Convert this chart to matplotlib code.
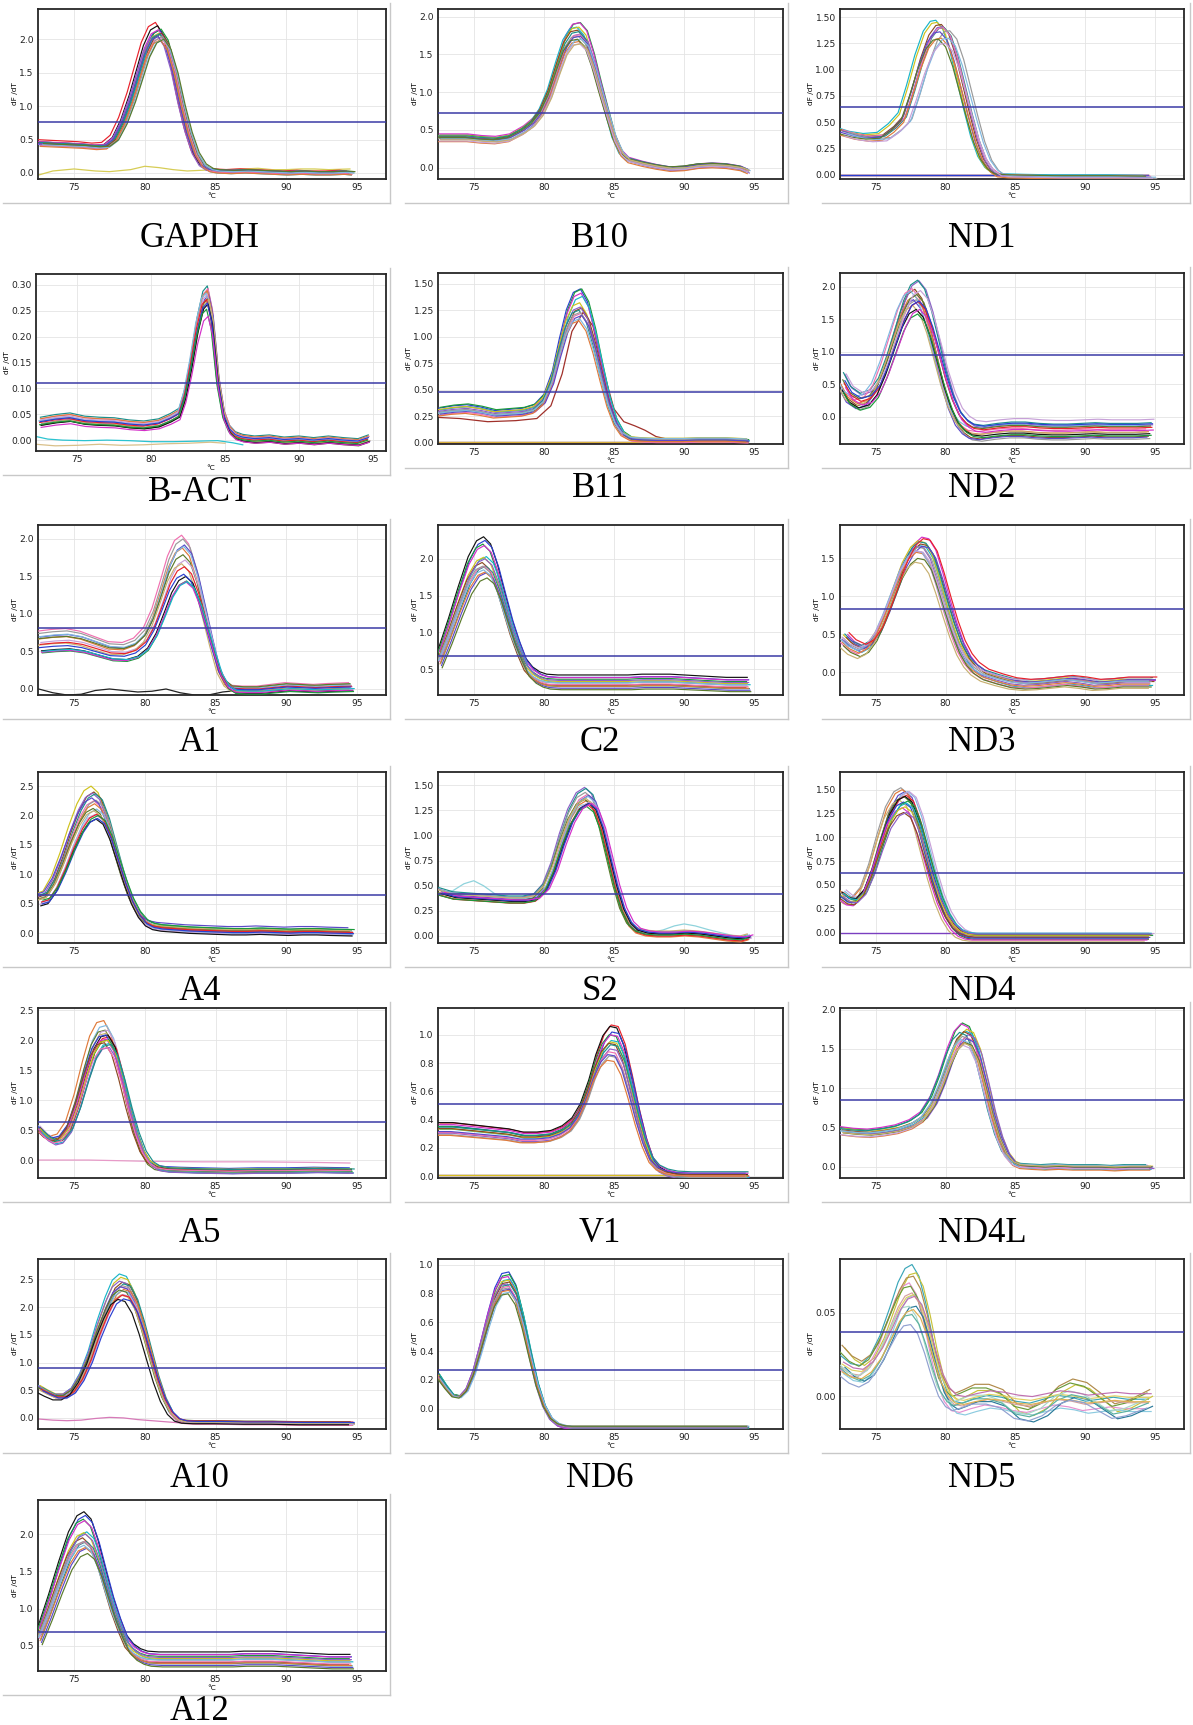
import numpy as np
import matplotlib
matplotlib.use("Agg")
import matplotlib.pyplot as plt
from matplotlib.lines import Line2D

W, H = 1193, 1725

# ---- melt curve data (dF/dT vs temperature) ----
# each panel: base curve knots + per-replicate peak height / temp shift / offset

GAPDH_T = [72.5, 73.5, 74.5, 75.5, 76.5, 77.2, 77.8, 78.4, 79.0, 79.5, 80.0, 80.5, 81.0, 81.5, 82.0,
           82.5, 83.0, 83.5, 84.0, 84.5, 85.0, 86.0, 87.0, 88.0, 89.0, 90.0, 91.0, 92.0, 93.0, 94.0, 94.5]
GAPDH_Y = [0.44, 0.43, 0.42, 0.41, 0.39, 0.40, 0.50, 0.75, 1.10, 1.45, 1.80, 2.02, 2.08, 1.92, 1.55,
           1.05, 0.62, 0.30, 0.12, 0.05, 0.03, 0.02, 0.03, 0.02, 0.01, 0.0, 0.01, 0.0, 0.0, 0.01, 0.0]
GAPDH_PEAK = [2.22, 2.20, 2.16, 2.14, 2.12, 2.10, 2.09, 2.08, 2.07, 2.06, 2.05, 2.04, 2.03, 2.02, 2.00, 1.98]
GAPDH_SHIFT = [-0.25, -0.1, 0.05, 0.15, -0.05, 0.1, 0.0, 0.2, -0.15, 0.05, 0.15, 0.25, -0.05, 0.1, 0.3, 0.35]
GAPDH_OFFSET = [0.03, 0.0, -0.02, 0.01, 0.02, -0.03, 0.0, 0.01, -0.01, 0.02, -0.02, 0.0, 0.01, -0.03, 0.0, 0.02]
GAPDH_NEG_T = [72.5, 73.5, 75, 76.5, 77.5, 79, 80, 81, 82, 83, 84, 85, 86, 87, 88, 89, 90, 91, 92, 93, 94.5]
GAPDH_NEG_Y = [-0.03, 0.03, 0.06, 0.03, 0.02, 0.05, 0.1, 0.08, 0.05, 0.03, 0.04, 0.05, 0.05, 0.06, 0.07,
               0.05, 0.05, 0.06, 0.06, 0.05, 0.06]
GAPDH_THR = 0.76
GAPDH_YTICKS = [0.0, 0.5, 1.0, 1.5, 2.0]

B10_T = [72.5, 73.5, 74.5, 75.5, 76.5, 77.5, 78.5, 79.2, 79.8, 80.4, 81.0, 81.5, 82.0, 82.5, 83.0,
         83.5, 84.0, 84.5, 85.0, 85.5, 86.0, 87.0, 88.0, 89.0, 90.0, 91.0, 92.0, 93.0, 94.0, 94.5]
B10_Y = [0.40, 0.40, 0.40, 0.38, 0.37, 0.40, 0.50, 0.60, 0.75, 1.00, 1.35, 1.62, 1.76, 1.78, 1.68,
         1.40, 1.05, 0.72, 0.40, 0.20, 0.11, 0.06, 0.02, -0.01, 0.0, 0.03, 0.04, 0.03, 0.0, -0.04]
B10_PEAK = [1.92, 1.90, 1.88, 1.85, 1.82, 1.80, 1.78, 1.76, 1.75, 1.73, 1.71, 1.70, 1.68, 1.66, 1.64]
B10_SHIFT = [0.1, 0.05, -0.15, 0.0, -0.1, 0.15, 0.0, 0.05, -0.05, 0.1, 0.0, 0.2, -0.1, 0.05, 0.15]
B10_OFFSET = [0.0, 0.02, -0.02, 0.01, 0.0, -0.03, 0.02, 0.0, -0.01, 0.01, -0.04, 0.0, 0.02, -0.02, 0.0]
B10_THR = 0.73
B10_YTICKS = [0.0, 0.5, 1.0, 1.5, 2.0]

ND1_T = [72.5, 73.5, 74.5, 75.5, 76.3, 77.0, 77.6, 78.2, 78.8, 79.3, 79.7, 80.2, 80.7, 81.2, 81.7,
         82.2, 82.7, 83.2, 83.7, 84.5, 86, 88, 90, 92, 94.5]
ND1_Y = [0.42, 0.38, 0.36, 0.37, 0.45, 0.55, 0.80, 1.08, 1.30, 1.39, 1.40, 1.32, 1.12, 0.85, 0.58,
         0.33, 0.15, 0.05, 0.0, -0.01, -0.015, -0.02, -0.02, -0.02, -0.025]
ND1_PEAK = [1.45, 1.44, 1.43, 1.42, 1.40, 1.39, 1.38, 1.36, 1.32, 1.30, 1.28, 1.26]
ND1_SHIFT = [-0.4, -0.3, 0.0, 0.1, 0.2, 0.15, 0.6, -0.1, 0.0, 0.5, -0.2, 0.3]
ND1_OFFSET = [0.02, 0.01, 0.0, -0.01, 0.0, 0.01, -0.01, 0.0, -0.02, 0.0, 0.01, -0.01]
ND1_FLAT = [-0.006, -0.003, 0.0, -0.004]
ND1_THR = 0.645
ND1_YTICKS = [0.0, 0.25, 0.5, 0.75, 1.0, 1.25, 1.5]

BACT_T = [72.5, 73.5, 74.5, 75.5, 76.5, 77.5, 78.5, 79.5, 80.5, 81.3, 81.9, 82.3, 82.7, 83.1, 83.5,
          83.8, 84.1, 84.5, 84.9, 85.3, 85.7, 86.2, 87, 88, 89, 90, 91, 92, 93, 94, 94.7]
BACT_Y = [0.035, 0.040, 0.043, 0.037, 0.035, 0.034, 0.030, 0.028, 0.032, 0.042, 0.052, 0.09, 0.15, 0.22,
          0.27, 0.28, 0.24, 0.12, 0.05, 0.02, 0.008, 0.003, 0.0, 0.002, -0.002, 0.0, -0.003, 0.0,
          -0.003, -0.005, 0.002]
BACT_PEAK = [0.290, 0.288, 0.287, 0.285, 0.283, 0.282, 0.280, 0.278, 0.275, 0.272, 0.268, 0.262, 0.255, 0.245]
BACT_SHIFT = [0.0, 0.05, -0.05, 0.1, 0.0, -0.1, 0.05, 0.0, 0.1, -0.05, 0.05, 0.0, -0.05, 0.05]
BACT_OFFSET = [0.008, 0.005, 0.0, -0.004, 0.006, 0.002, -0.006, 0.004, -0.003, 0.0, -0.005, 0.003, -0.002, -0.006]
BACT_NEG1_T = [72.2, 73.0, 74.0, 75.5, 77.0, 78.5, 80.0, 81.5, 83.0, 84.5, 85.5, 86.2]
BACT_NEG1_Y = [0.007, 0.002, 0.0, -0.001, 0.0, -0.001, -0.003, -0.003, -0.002, -0.001, -0.005, -0.009]
BACT_NEG2_T = [72.2, 73.5, 75.0, 76.5, 78.0, 79.5, 81.0, 82.5, 84.0, 85.0]
BACT_NEG2_Y = [-0.008, -0.011, -0.010, -0.008, -0.010, -0.009, -0.007, -0.006, -0.004, -0.006]
BACT_THR = 0.111
BACT_YTICKS = [0.0, 0.05, 0.10, 0.15, 0.20, 0.25, 0.30]

B11_T = [72.5, 73.5, 74.5, 75.5, 76.5, 77.5, 78.5, 79.3, 80.0, 80.6, 81.1, 81.6, 82.1, 82.6, 83.1,
         83.6, 84.1, 84.6, 85.1, 85.6, 86.2, 87, 88, 89, 90, 91, 92, 93, 94.5]
B11_Y = [0.30, 0.32, 0.33, 0.31, 0.28, 0.29, 0.30, 0.33, 0.42, 0.62, 0.90, 1.15, 1.30, 1.33, 1.22,
         0.98, 0.68, 0.40, 0.20, 0.09, 0.04, 0.03, 0.025, 0.025, 0.025, 0.03, 0.03, 0.03, 0.02]
B11_PEAK = [1.45, 1.44, 1.42, 1.38, 1.30, 1.28, 1.27, 1.25, 1.24, 1.22, 1.20, 1.16, 1.15]
B11_SHIFT = [0.0, 0.1, 0.05, 0.15, -0.05, 0.1, 0.0, -0.1, 0.05, 0.0, 0.1, -0.1, -0.05]
B11_OFFSET = [0.0, 0.01, -0.01, 0.0, 0.02, -0.01, 0.01, 0.0, -0.02, 0.01, 0.0, -0.01, 0.02]
B11_OUT_T = [72.5, 74, 76, 78, 79.5, 80.5, 81.3, 82, 82.8, 83.5, 84.2, 85, 85.7, 86.5, 87.2, 88, 89, 90, 92, 94.5]
B11_OUT_Y = [0.24, 0.23, 0.20, 0.21, 0.23, 0.35, 0.65, 1.05, 1.23, 1.10, 0.70, 0.32, 0.20, 0.16, 0.12,
             0.06, 0.03, 0.03, 0.03, 0.02]
B11_FLAT = [0.005, 0.01, 0.0]
B11_THR = 0.475
B11_YTICKS = [0.0, 0.25, 0.5, 0.75, 1.0, 1.25, 1.5]

ND2_T = [72.5, 73.0, 73.7, 74.4, 75.0, 75.6, 76.2, 76.8, 77.3, 77.8, 78.3, 78.8, 79.3, 79.8, 80.3,
         80.8, 81.3, 81.8, 82.5, 83.5, 84.5, 85.5, 86.5, 87.5, 88.5, 89.5, 90.5, 91.5, 92.5, 93.5, 94.5]
ND2_Y = [0.50, 0.30, 0.20, 0.25, 0.42, 0.75, 1.15, 1.55, 1.78, 1.85, 1.72, 1.40, 0.98, 0.55, 0.20,
         -0.05, -0.18, -0.25, -0.27, -0.24, -0.22, -0.22, -0.24, -0.25, -0.25, -0.24, -0.23, -0.24,
         -0.24, -0.24, -0.23]
ND2_PEAK = [2.01, 1.97, 1.95, 1.92, 1.90, 1.88, 1.86, 1.83, 1.80, 1.76, 1.73, 1.72, 1.70, 1.68, 1.66, 1.65]
ND2_SHIFT = [0.0, 0.3, 0.2, -0.2, 0.1, -0.1, 0.0, -0.3, 0.15, 0.4, -0.15, 0.25, 0.1, 0.3, 0.2, 0.35]
ND2_OFFSET = [-0.05, 0.12, 0.15, 0.05, -0.1, -0.08, 0.0, 0.1, 0.08, 0.18, -0.02, 0.05, -0.05, 0.1, -0.08, 0.0]
ND2_THR = 0.95
ND2_YTICKS = [0.0, 0.5, 1.0, 1.5, 2.0]

A1_T = [72.5, 73.5, 74.5, 75.5, 76.5, 77.5, 78.5, 79.3, 80.0, 80.6, 81.2, 81.7, 82.2, 82.7, 83.2,
        83.7, 84.2, 84.7, 85.2, 85.7, 86.2, 87, 88, 89, 90, 91, 92, 93, 94.5]
A1_Y = [0.62, 0.64, 0.65, 0.62, 0.56, 0.50, 0.49, 0.54, 0.66, 0.88, 1.20, 1.48, 1.66, 1.72, 1.62,
        1.35, 0.98, 0.60, 0.25, 0.07, 0.0, -0.01, -0.01, 0.01, 0.03, 0.02, 0.01, 0.02, 0.03]
A1_PEAK = [2.0, 1.97, 1.92, 1.90, 1.88, 1.75, 1.72, 1.70, 1.62, 1.55, 1.53, 1.50, 1.47, 1.45]
A1_SHIFT = [-0.1, 0.0, 0.1, -0.05, 0.05, 0.0, 0.15, -0.1, 0.1, 0.2, 0.05, 0.25, 0.2, 0.3]
A1_OFFSET = [0.05, 0.03, 0.0, -0.02, 0.02, 0.04, 0.0, -0.03, 0.01, -0.05, 0.0, -0.06, -0.04, -0.02]
A1_NEG_T = [72.5, 73.5, 74.5, 75.5, 76.5, 77.5, 78.5, 79.5, 80.5, 81.5, 82.5, 83.5, 84.5, 85.5, 86.5,
            88, 90, 92, 94.5]
A1_NEG_Y = [0.0, -0.05, -0.08, -0.07, -0.02, 0.0, -0.02, -0.04, -0.03, 0.0, -0.05, -0.08, -0.08,
            -0.04, -0.02, -0.02, -0.02, -0.02, -0.02]
A1_THR = 0.815
A1_YTICKS = [0.0, 0.5, 1.0, 1.5, 2.0]

C2_T = [72.5, 73.2, 73.9, 74.6, 75.2, 75.7, 76.2, 76.7, 77.2, 77.7, 78.2, 78.7, 79.2, 79.7, 80.2,
        81, 82, 83, 84, 85, 86, 87, 88, 89, 90, 91, 92, 93, 94.5]
C2_Y = [0.68, 1.05, 1.45, 1.82, 2.02, 2.07, 1.98, 1.72, 1.38, 1.05, 0.78, 0.55, 0.44, 0.38, 0.35,
        0.34, 0.34, 0.34, 0.34, 0.34, 0.34, 0.35, 0.35, 0.35, 0.34, 0.33, 0.32, 0.31, 0.31]
C2_PEAK = [2.25, 2.23, 2.20, 2.15, 2.05, 2.02, 2.00, 1.98, 1.96, 1.93, 1.90, 1.88, 1.86, 1.84, 1.82]
C2_SHIFT = [0.0, 0.1, -0.05, 0.05, 0.2, 0.0, -0.1, 0.1, 0.15, 0.05, -0.05, 0.2, 0.1, 0.0, 0.25]
C2_OFFSET = [0.05, 0.02, 0.0, 0.03, -0.02, 0.0, -0.05, 0.02, -0.06, -0.03, 0.0, -0.07, -0.04, 0.01, -0.08]
C2_THR = 0.68
C2_YTICKS = [0.5, 1.0, 1.5, 2.0]

ND3_T = [72.5, 73.0, 73.7, 74.3, 74.9, 75.5, 76.1, 76.7, 77.3, 77.8, 78.3, 78.8, 79.3, 79.8, 80.3,
         80.8, 81.3, 81.8, 82.5, 83.5, 84.5, 85.5, 86.5, 87.5, 88.5, 89.5, 90.5, 91.5, 92.5, 93.5, 94.5]
ND3_Y = [0.45, 0.36, 0.30, 0.36, 0.52, 0.78, 1.08, 1.38, 1.58, 1.66, 1.64, 1.50, 1.22, 0.90, 0.60,
         0.35, 0.18, 0.07, -0.02, -0.08, -0.13, -0.15, -0.14, -0.12, -0.10, -0.12, -0.15, -0.14,
         -0.12, -0.12, -0.12]
ND3_PEAK = [1.76, 1.72, 1.70, 1.69, 1.68, 1.67, 1.66, 1.65, 1.64, 1.62, 1.60, 1.58, 1.56, 1.55, 1.70]
ND3_SHIFT = [0.5, 0.3, 0.2, 0.4, 0.1, 0.3, 0.0, 0.2, 0.5, 0.1, 0.0, 0.2, 0.1, 0.0, 0.6]
ND3_OFFSET = [0.02, -0.05, 0.03, 0.0, -0.02, 0.05, -0.06, 0.0, 0.02, -0.04, 0.0, -0.08, 0.04, -0.1, 0.06]
ND3_THR = 0.83
ND3_YTICKS = [0.0, 0.5, 1.0, 1.5]

A4_T = [72.5, 73.0, 73.6, 74.2, 74.8, 75.4, 75.9, 76.4, 76.9, 77.4, 77.9, 78.4, 78.9, 79.4, 79.9,
        80.4, 81, 82, 83, 84, 85, 86, 87, 88, 89, 90, 91, 92, 93, 94.5]
A4_Y = [0.58, 0.62, 0.85, 1.20, 1.60, 1.95, 2.15, 2.22, 2.12, 1.82, 1.40, 0.98, 0.62, 0.36, 0.20,
        0.13, 0.10, 0.08, 0.06, 0.05, 0.04, 0.03, 0.03, 0.04, 0.03, 0.02, 0.03, 0.03, 0.02, 0.01]
A4_PEAK = [2.48, 2.42, 2.38, 2.33, 2.28, 2.25, 2.22, 2.20, 2.15, 2.10, 2.07, 2.05, 2.02, 2.00, 1.97, 1.95]
A4_SHIFT = [-0.2, 0.0, -0.1, 0.1, 0.0, 0.15, -0.15, 0.05, 0.2, -0.05, 0.1, 0.0, 0.2, 0.15, 0.25, 0.3]
A4_OFFSET = [0.02, -0.02, 0.0, 0.04, -0.03, 0.01, 0.08, 0.0, -0.04, 0.02, -0.05, 0.03, 0.0, -0.06, -0.02, 0.05]
A4_THR = 0.64
A4_YTICKS = [0.0, 0.5, 1.0, 1.5, 2.0, 2.5]

S2_T = [72.5, 73.5, 74.5, 75.5, 76.5, 77.5, 78.5, 79.3, 80.0, 80.6, 81.2, 81.8, 82.4, 83.0, 83.5,
        84.0, 84.5, 85.0, 85.5, 86.0, 86.5, 87.2, 88, 89, 90, 91, 92, 93, 94, 94.5]
S2_Y = [0.44, 0.40, 0.39, 0.38, 0.37, 0.36, 0.36, 0.38, 0.48, 0.68, 0.95, 1.18, 1.33, 1.38, 1.32,
        1.12, 0.82, 0.52, 0.28, 0.13, 0.06, 0.03, 0.02, 0.02, 0.03, 0.02, 0.0, -0.02, -0.03, -0.01]
S2_PEAK = [1.48, 1.45, 1.43, 1.42, 1.40, 1.38, 1.37, 1.36, 1.35, 1.34, 1.33, 1.32, 1.31, 1.30, 1.30]
S2_SHIFT = [-0.1, 0.0, 0.1, -0.05, 0.2, 0.05, 0.15, -0.1, 0.3, 0.0, 0.1, 0.2, 0.25, 0.05, 0.4]
S2_OFFSET = [0.0, 0.02, -0.02, 0.01, 0.0, -0.03, 0.02, 0.0, -0.01, 0.03, -0.02, 0.0, 0.01, -0.01, 0.02]
S2_OUT_T = [72.5, 73.5, 74.3, 75, 75.7, 76.5, 77.5, 78.5, 79.5, 80.3, 81, 81.8, 82.6, 83.3, 84,
            84.6, 85.2, 85.8, 86.5, 87.5, 88.5, 89.3, 90, 90.8, 91.8, 93, 94.5]
S2_OUT_Y = [0.42, 0.45, 0.52, 0.55, 0.50, 0.42, 0.38, 0.37, 0.42, 0.60, 0.90, 1.15, 1.30, 1.32, 1.20,
            0.90, 0.55, 0.25, 0.08, 0.03, 0.06, 0.10, 0.12, 0.10, 0.06, 0.02, -0.03]
S2_THR = 0.42
S2_YTICKS = [0.0, 0.25, 0.5, 0.75, 1.0, 1.25, 1.5]

ND4_T = [72.5, 73.0, 73.5, 74.1, 74.7, 75.3, 75.9, 76.5, 77.0, 77.5, 78.0, 78.5, 79.0, 79.5, 80.0,
         80.5, 81.0, 81.5, 82.0, 83, 85, 88, 91, 94.5]
ND4_Y = [0.42, 0.36, 0.35, 0.45, 0.68, 0.98, 1.25, 1.40, 1.44, 1.38, 1.18, 0.90, 0.62, 0.38, 0.20,
         0.08, 0.01, -0.02, -0.03, -0.03, -0.03, -0.03, -0.03, -0.03]
ND4_PEAK = [1.52, 1.50, 1.49, 1.48, 1.47, 1.46, 1.45, 1.44, 1.42, 1.40, 1.38, 1.36, 1.34, 1.32, 1.28, 1.25]
ND4_SHIFT = [-0.2, 0.1, -0.1, 0.3, 0.0, 0.4, -0.3, 0.2, 0.1, 0.0, 0.3, -0.1, 0.2, 0.1, 0.0, 0.2]
ND4_OFFSET = [0.0, -0.02, 0.01, 0.0, -0.04, 0.02, -0.06, 0.0, 0.01, -0.03, 0.0, -0.05, 0.02, 0.0, -0.02, 0.01]
ND4_FLAT = [0.0]
ND4_THR = 0.625
ND4_YTICKS = [0.0, 0.25, 0.5, 0.75, 1.0, 1.25, 1.5]

A5_T = [72.5, 73.0, 73.5, 74.0, 74.6, 75.2, 75.8, 76.3, 76.8, 77.3, 77.8, 78.3, 78.8, 79.3, 79.8,
        80.3, 80.8, 81.5, 82.5, 84, 86, 88, 90, 92, 94.5]
A5_Y = [0.52, 0.40, 0.33, 0.36, 0.55, 0.95, 1.45, 1.82, 2.02, 2.05, 1.85, 1.42, 0.92, 0.48, 0.15,
        -0.04, -0.12, -0.15, -0.16, -0.17, -0.18, -0.17, -0.17, -0.16, -0.17]
A5_PEAK = [2.30, 2.25, 2.20, 2.15, 2.12, 2.10, 2.08, 2.05, 2.03, 2.02, 2.00, 1.98, 1.96, 1.94, 1.92, 1.90]
A5_SHIFT = [-0.2, 0.0, -0.1, 0.1, 0.0, 0.2, 0.1, -0.05, 0.15, 0.0, 0.25, 0.1, -0.15, 0.2, 0.3, 0.05]
A5_OFFSET = [0.03, 0.0, -0.03, 0.02, 0.0, -0.04, 0.01, 0.04, -0.02, 0.0, -0.05, 0.02, 0.0, -0.06, 0.01, -0.02]
A5_NEG_T = [72.5, 76, 80, 84, 88, 92, 94.5]
A5_NEG_Y = [0.0, 0.0, -0.02, -0.03, -0.03, -0.04, -0.05]
A5_THR = 0.63
A5_YTICKS = [0.0, 0.5, 1.0, 1.5, 2.0, 2.5]

V1_T = [72.5, 73.5, 74.5, 75.5, 76.5, 77.5, 78.5, 79.5, 80.5, 81.3, 82.0, 82.6, 83.2, 83.7, 84.2,
        84.7, 85.2, 85.7, 86.2, 86.7, 87.2, 87.7, 88.2, 88.8, 89.5, 90.5, 92, 94.5]
V1_Y = [0.33, 0.33, 0.32, 0.31, 0.30, 0.29, 0.27, 0.27, 0.28, 0.31, 0.36, 0.45, 0.60, 0.76, 0.88,
        0.94, 0.93, 0.82, 0.63, 0.42, 0.24, 0.11, 0.05, 0.02, 0.005, 0.0, 0.0, 0.0]
V1_PEAK = [1.07, 1.05, 1.03, 1.00, 0.98, 0.97, 0.95, 0.93, 0.92, 0.90, 0.88, 0.86, 0.84, 0.82]
V1_SHIFT = [0.1, 0.0, 0.15, -0.05, 0.05, 0.1, 0.0, -0.1, 0.0, 0.05, -0.1, -0.05, -0.15, -0.2]
V1_OFFSET = [0.0, 0.01, -0.01, 0.0, 0.02, -0.01, 0.0, 0.01, -0.02, 0.03, 0.0, -0.01, 0.02, 0.0]
V1_FLAT = [0.008, 0.004]
V1_THR = 0.51
V1_YTICKS = [0.0, 0.2, 0.4, 0.6, 0.8, 1.0]

ND4L_T = [72.5, 73.5, 74.5, 75.5, 76.5, 77.5, 78.3, 79.0, 79.6, 80.2, 80.7, 81.2, 81.7, 82.2, 82.7,
          83.2, 83.7, 84.2, 84.7, 85.2, 86, 87, 88, 89, 90, 91, 92, 93, 94.5]
ND4L_Y = [0.45, 0.43, 0.42, 0.44, 0.47, 0.53, 0.62, 0.80, 1.05, 1.35, 1.55, 1.64, 1.60, 1.40, 1.05,
          0.68, 0.38, 0.17, 0.06, 0.02, 0.01, 0.0, 0.01, 0.0, 0.0, 0.0, -0.01, 0.0, 0.0]
ND4L_PEAK = [1.83, 1.80, 1.76, 1.74, 1.72, 1.70, 1.68, 1.66, 1.65, 1.63, 1.62, 1.60, 1.58, 1.57, 1.56]
ND4L_SHIFT = [0.0, -0.1, 0.2, 0.3, 0.1, 0.4, -0.2, 0.2, 0.0, 0.3, 0.1, -0.1, 0.2, 0.0, 0.15]
ND4L_OFFSET = [0.0, 0.02, -0.03, 0.01, 0.0, -0.02, 0.03, -0.01, 0.01, 0.0, -0.04, 0.02, 0.0, -0.02, 0.01]
ND4L_THR = 0.855
ND4L_YTICKS = [0.0, 0.5, 1.0, 1.5, 2.0]

A10_T = [72.5, 73.0, 73.6, 74.2, 74.8, 75.4, 76.0, 76.6, 77.2, 77.7, 78.2, 78.7, 79.2, 79.7, 80.2,
         80.7, 81.2, 81.7, 82.2, 82.7, 83.5, 85, 87, 89, 91, 93, 94.5]
A10_Y = [0.52, 0.45, 0.38, 0.38, 0.48, 0.72, 1.08, 1.55, 1.95, 2.22, 2.32, 2.28, 2.05, 1.65, 1.18,
         0.72, 0.35, 0.10, -0.03, -0.07, -0.08, -0.08, -0.09, -0.09, -0.1, -0.1, -0.1]
A10_PEAK = [2.60, 2.52, 2.47, 2.44, 2.42, 2.40, 2.38, 2.35, 2.33, 2.30, 2.28, 2.25, 2.22, 2.20, 2.17, 2.14]
A10_SHIFT = [0.0, 0.1, 0.2, 0.0, 0.3, 0.1, 0.2, 0.05, 0.3, 0.15, 0.0, 0.25, 0.1, 0.2, -0.1, 0.3]
A10_OFFSET = [0.0, 0.02, -0.02, 0.03, 0.0, -0.03, 0.01, 0.02, -0.01, 0.0, 0.03, -0.02, 0.0, 0.02, -0.03, 0.01]
A10_NEG_T = [72.5, 73.5, 74.5, 75.5, 76.5, 77.5, 78.5, 79.5, 80.5, 81.5, 82.5, 84, 87, 90, 94.5]
A10_NEG_Y = [-0.02, -0.04, -0.05, -0.04, -0.01, 0.01, 0.0, -0.03, -0.05, -0.07, -0.09, -0.1, -0.1, -0.11, -0.11]
A10_THR = 0.90
A10_YTICKS = [0.0, 0.5, 1.0, 1.5, 2.0, 2.5]

ND6_T = [72.5, 73.0, 73.5, 74.0, 74.5, 75.0, 75.5, 76.0, 76.5, 77.0, 77.5, 78.0, 78.5, 79.0, 79.5,
         80.0, 80.5, 81.0, 81.5, 82, 84, 87, 90, 94.5]
ND6_Y = [0.22, 0.15, 0.09, 0.08, 0.13, 0.25, 0.42, 0.60, 0.76, 0.85, 0.86, 0.78, 0.60, 0.38, 0.17,
         0.02, -0.07, -0.11, -0.125, -0.13, -0.13, -0.13, -0.13, -0.13]
ND6_PEAK = [0.95, 0.93, 0.92, 0.90, 0.89, 0.88, 0.87, 0.86, 0.85, 0.84, 0.83, 0.82, 0.81, 0.80]
ND6_SHIFT = [0.0, 0.05, -0.05, 0.1, 0.0, 0.05, -0.1, 0.1, 0.0, -0.05, 0.05, 0.0, 0.1, -0.05]
ND6_OFFSET = [0.0, 0.002, -0.002, 0.0, 0.003, 0.0, -0.003, 0.002, 0.0, -0.002, 0.0, 0.002, 0.0, -0.002]
ND6_THR = 0.266
ND6_YTICKS = [0.0, 0.2, 0.4, 0.6, 0.8, 1.0]

ND5_T = [72.5, 73.2, 73.9, 74.6, 75.3, 76.0, 76.6, 77.1, 77.6, 78.1, 78.6, 79.1, 79.6, 80.1, 80.6,
         81.2, 82, 83, 84, 85, 86, 87, 88, 89, 90, 91, 92, 93, 94.5]
ND5_Y_A = [0.018, 0.014, 0.013, 0.018, 0.028, 0.042, 0.055, 0.062, 0.064, 0.058, 0.044, 0.026, 0.010,
           0.0, -0.005, -0.006, -0.004, -0.002, -0.003, -0.005, -0.006, -0.004, -0.002, -0.003,
           -0.005, -0.004, -0.003, -0.004, -0.004]
ND5_Y_B = [0.025, 0.019, 0.016, 0.020, 0.030, 0.044, 0.056, 0.063, 0.064, 0.057, 0.042, 0.024, 0.009,
           0.001, -0.002, 0.0, 0.003, 0.003, 0.0, -0.008, -0.010, -0.006, 0.002, 0.006, 0.004,
           -0.002, -0.008, -0.006, 0.0]
ND5_PEAK = [0.076, 0.074, 0.071, 0.068, 0.066, 0.064, 0.062, 0.060, 0.058, 0.056, 0.055, 0.053, 0.052, 0.050]
ND5_SHIFT = [0.0, 0.3, -0.2, 0.1, 0.2, -0.1, 0.0, 0.3, 0.1, -0.2, 0.2, 0.0, 0.1, -0.1]
ND5_OFFSET = [0.003, 0.0, -0.003, 0.004, -0.005, 0.002, 0.0, -0.006, 0.003, -0.002, 0.005, -0.004, 0.0, -0.007]
ND5_THR = 0.0388
ND5_YTICKS = [0.0, 0.05]

# A12 is the same run as C2
A12_THR = 0.69

PALETTE = ['#e8202a', '#111111', '#2a3fd1', '#1a9a3a', '#d42fc9', '#19b5c9', '#cfc21c', '#8b4a22',
           '#8d5fc7', '#1b8f8a', '#f070b0', '#9a9a9a', '#5b48c8', '#e07a3a', '#7fb8e0', '#5a7a2a',
           '#c7a0d8', '#c8b070']
PASTEL = ['#3aa6b8', '#c9c23a', '#e58fd0', '#b08a4a', '#8ccbe0', '#6a9a3a', '#d4a0a0', '#2a7a9a',
          '#e0d060', '#a8d8c8', '#c070b0', '#5ab0a0', '#e0b050', '#90a0d0']

# ---- layout (pixels) ----
COL_X = [(38, 386), (438, 783), (840, 1184)]
COL_FRAME = [(3, 390), (405, 788), (822, 1190)]
COL_CX = [200, 600, 982]
ROW_Y = [(9, 179), (273, 444), (525, 695), (772, 943), (1008, 1178), (1259, 1429), (1500, 1671)]
ROW_LABEL = [247, 497, 751, 1000, 1242, 1487, 1720]

PANELS = [
    dict(name="GAPDH", rc=(0, 0), ylim=(-0.09, 2.45), yt=GAPDH_YTICKS, dec=1, thr=GAPDH_THR,
         T=GAPDH_T, Y=[GAPDH_Y], pk=GAPDH_PEAK, dx=GAPDH_SHIFT, off=GAPDH_OFFSET,
         extra=[(GAPDH_NEG_T, GAPDH_NEG_Y, '#d6cc55')], flat=[], c0=0),
    dict(name="B10", rc=(0, 1), ylim=(-0.15, 2.10), yt=B10_YTICKS, dec=1, thr=B10_THR,
         T=B10_T, Y=[B10_Y], pk=B10_PEAK, dx=B10_SHIFT, off=B10_OFFSET, extra=[], flat=[], c0=3),
    dict(name="ND1", rc=(0, 2), ylim=(-0.04, 1.577), yt=ND1_YTICKS, dec=2, thr=ND1_THR,
         T=ND1_T, Y=[ND1_Y], pk=ND1_PEAK, dx=ND1_SHIFT, off=ND1_OFFSET, extra=[], flat=ND1_FLAT, c0=5),
    dict(name="B-ACT", rc=(1, 0), ylim=(-0.021, 0.321), yt=BACT_YTICKS, dec=2, thr=BACT_THR,
         T=BACT_T, Y=[BACT_Y], pk=BACT_PEAK, dx=BACT_SHIFT, off=BACT_OFFSET,
         extra=[(BACT_NEG1_T, BACT_NEG1_Y, '#2cc3d0'), (BACT_NEG2_T, BACT_NEG2_Y, '#d9c08a')],
         flat=[], c0=9, xlim=(72.2, 95.9), box=(36, 274, 386, 451), lab=501),
    dict(name="B11", rc=(1, 1), ylim=(-0.01, 1.60), yt=B11_YTICKS, dec=2, thr=B11_THR,
         T=B11_T, Y=[B11_Y], pk=B11_PEAK, dx=B11_SHIFT, off=B11_OFFSET,
         extra=[(B11_OUT_T, B11_OUT_Y, '#a0302a')], flat=B11_FLAT, c0=2),
    dict(name="ND2", rc=(1, 2), ylim=(-0.42, 2.21), yt=ND2_YTICKS, dec=1, thr=ND2_THR,
         T=ND2_T, Y=[ND2_Y], pk=ND2_PEAK, dx=ND2_SHIFT, off=ND2_OFFSET, extra=[], flat=[], c0=7),
    dict(name="A1", rc=(2, 0), ylim=(-0.08, 2.186), yt=A1_YTICKS, dec=1, thr=A1_THR,
         T=A1_T, Y=[A1_Y], pk=A1_PEAK, dx=A1_SHIFT, off=A1_OFFSET,
         extra=[(A1_NEG_T, A1_NEG_Y, '#222222')], flat=[], c0=10),
    dict(name="C2", rc=(2, 1), ylim=(0.147, 2.46), yt=C2_YTICKS, dec=1, thr=C2_THR,
         T=C2_T, Y=[C2_Y], pk=C2_PEAK, dx=C2_SHIFT, off=C2_OFFSET, extra=[], flat=[], c0=1),
    dict(name="ND3", rc=(2, 2), ylim=(-0.30, 1.94), yt=ND3_YTICKS, dec=1, thr=ND3_THR,
         T=ND3_T, Y=[ND3_Y], pk=ND3_PEAK, dx=ND3_SHIFT, off=ND3_OFFSET, extra=[], flat=[], c0=4),
    dict(name="A4", rc=(3, 0), ylim=(-0.17, 2.74), yt=A4_YTICKS, dec=1, thr=A4_THR,
         T=A4_T, Y=[A4_Y], pk=A4_PEAK, dx=A4_SHIFT, off=A4_OFFSET, extra=[], flat=[], c0=6),
    dict(name="S2", rc=(3, 1), ylim=(-0.07, 1.633), yt=S2_YTICKS, dec=2, thr=S2_THR,
         T=S2_T, Y=[S2_Y], pk=S2_PEAK, dx=S2_SHIFT, off=S2_OFFSET,
         extra=[(S2_OUT_T, S2_OUT_Y, '#8fd3dc')], flat=[], c0=8),
    dict(name="ND4", rc=(3, 2), ylim=(-0.11, 1.685), yt=ND4_YTICKS, dec=2, thr=ND4_THR,
         T=ND4_T, Y=[ND4_Y], pk=ND4_PEAK, dx=ND4_SHIFT, off=ND4_OFFSET, extra=[],
         flat=ND4_FLAT, c0=11),
    dict(name="A5", rc=(4, 0), ylim=(-0.30, 2.54), yt=A5_YTICKS, dec=1, thr=A5_THR,
         T=A5_T, Y=[A5_Y], pk=A5_PEAK, dx=A5_SHIFT, off=A5_OFFSET,
         extra=[(A5_NEG_T, A5_NEG_Y, '#e79ac8')], flat=[], c0=13),
    dict(name="V1", rc=(4, 1), ylim=(-0.014, 1.19), yt=V1_YTICKS, dec=1, thr=V1_THR,
         T=V1_T, Y=[V1_Y], pk=V1_PEAK, dx=V1_SHIFT, off=V1_OFFSET, extra=[], flat=V1_FLAT, c0=0),
    dict(name="ND4L", rc=(4, 2), ylim=(-0.14, 2.02), yt=ND4L_YTICKS, dec=1, thr=ND4L_THR,
         T=ND4L_T, Y=[ND4L_Y], pk=ND4L_PEAK, dx=ND4L_SHIFT, off=ND4L_OFFSET, extra=[], flat=[], c0=3),
    dict(name="A10", rc=(5, 0), ylim=(-0.20, 2.87), yt=A10_YTICKS, dec=1, thr=A10_THR,
         T=A10_T, Y=[A10_Y], pk=A10_PEAK, dx=A10_SHIFT, off=A10_OFFSET,
         extra=[(A10_NEG_T, A10_NEG_Y, '#d77ab8')], flat=[], c0=5),
    dict(name="ND6", rc=(5, 1), ylim=(-0.142, 1.04), yt=ND6_YTICKS, dec=1, thr=ND6_THR,
         T=ND6_T, Y=[ND6_Y], pk=ND6_PEAK, dx=ND6_SHIFT, off=ND6_OFFSET, extra=[], flat=[], c0=2),
    dict(name="ND5", rc=(5, 2), ylim=(-0.0196, 0.0823), yt=ND5_YTICKS, dec=2, thr=ND5_THR,
         T=ND5_T, Y=[ND5_Y_A, ND5_Y_B], pk=ND5_PEAK, dx=ND5_SHIFT, off=ND5_OFFSET, extra=[],
         flat=[], c0=0, pal=PASTEL),
    dict(name="A12", rc=(6, 0), ylim=(0.164, 2.457), yt=C2_YTICKS, dec=1, thr=A12_THR,
         T=C2_T, Y=[C2_Y], pk=C2_PEAK, dx=C2_SHIFT, off=C2_OFFSET, extra=[], flat=[], c0=1),
]

fig = plt.figure(figsize=(W / 100, H / 100), dpi=100)
fig.patch.set_facecolor("white")

for p in PANELS:
    r, c = p["rc"]
    if "box" in p:
        l, t, rr, b = p["box"]
    else:
        l, rr = COL_X[c]
        t, b = ROW_Y[r]
    ax = fig.add_axes([l / W, 1 - b / H, (rr - l) / W, (b - t) / H])
    pal = p.get("pal", PALETTE)
    T = np.array(p["T"])
    bases = [np.array(y) for y in p["Y"]]
    base_peak = max(bases[0].max(), 1e-9)
    x0, x1 = p.get("xlim", (72.45, 97.05))

    for fl, col in zip(p["flat"], ['#7a3fc0', '#d8c020', '#e06aa8', '#2a3fd1']):
        ax.plot([72.5, 94.5], [fl, fl], color=col, lw=1.0, zorder=2)
    for et, ey, col in p["extra"]:
        ax.plot(et, ey, color=col, lw=0.9, zorder=2)
    for i, (pk, dx, off) in enumerate(zip(p["pk"], p["dx"], p["off"])):
        yb = bases[i % len(bases)]
        ax.plot(T + dx, yb * pk / base_peak + off, color=pal[(p["c0"] + i) % len(pal)],
                lw=0.85, zorder=3)

    ax.axhline(p["thr"], color='#3a3aa6', lw=1.1, zorder=5)
    ax.set_xlim(x0, x1)
    ax.set_ylim(*p["ylim"])
    ax.set_xticks([75, 80, 85, 90, 95])
    ax.set_yticks(p["yt"])
    ax.set_yticklabels([f"{v:.{p['dec']}f}" for v in p["yt"]])
    ax.grid(True, color='#e4e4e4', lw=0.6, zorder=0)
    ax.set_axisbelow(True)
    ax.tick_params(length=0, labelsize=6.6, pad=3, labelcolor='#222222')
    for s in ax.spines.values():
        s.set_linewidth(1.3)
        s.set_color('#262626')
    ax.set_ylabel("dF /dT", fontsize=5.3, labelpad=1)
    ax.set_xlabel("°C", fontsize=5.3, labelpad=0.5)

    # light grey border of the exported screenshot (right + bottom)
    fl_, fr_ = COL_FRAME[c]
    fb = b + 24
    ft = t - 6
    fig.add_artist(Line2D([fl_ / W, fr_ / W], [1 - fb / H, 1 - fb / H], color='#c8c8c8', lw=1.0))
    fig.add_artist(Line2D([fr_ / W, fr_ / W], [1 - ft / H, 1 - fb / H], color='#c8c8c8', lw=1.0))

    ly = p.get("lab", ROW_LABEL[r])
    fig.text(COL_CX[c] / W, 1 - ly / H, p["name"], ha='center', va='baseline',
             fontsize=25, family='Liberation Serif', color='black')

fig.savefig("out.png", dpi=100, facecolor="white")
